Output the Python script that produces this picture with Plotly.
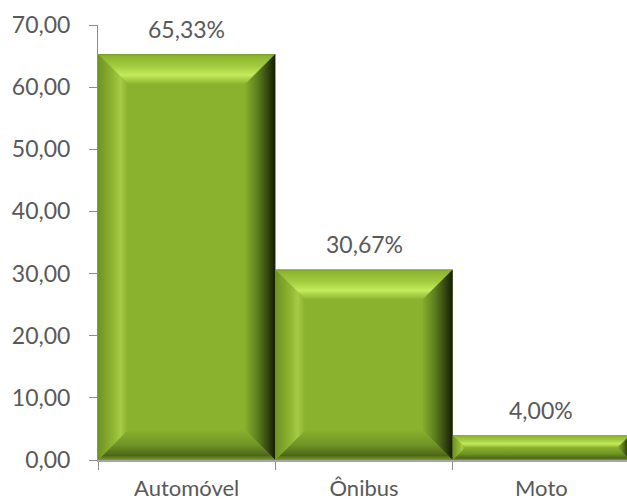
import plotly.graph_objects as go

categories = ["Automóvel", "Ônibus", "Moto"]
values = [65.33, 30.67, 4.00]
y_ticks = [0, 10, 20, 30, 40, 50, 60, 70]

W, H = 627, 503
ML, MR, MT, MB = 98, 0, 25, 43
YMAX = 70
XMIN, XMAX = -0.5, 2.483

px_per_y = (H - MT - MB) / YMAX
px_per_x = (W - ML - MR) / (XMAX - XMIN)

FACE = "#8BB22E"
fig = go.Figure()

fig.add_trace(go.Bar(
    x=list(range(len(categories))), y=values, width=1,
    marker=dict(color=FACE, line=dict(width=0)),
    hoverinfo="skip", showlegend=False,
))

grad = {
    "top": dict(type="vertical", colorscale=[[0, "#8DB42F"], [0.3, "#C3EB5C"], [0.6, "#A3CB40"], [0.92, "#8EB530"], [1, "#7A9C28"]]),
    "bottom": dict(type="vertical", colorscale=[[0, "#7A9C2A"], [0.15, "#4C6618"], [0.5, "#6F9425"], [1, "#8AB12E"]]),
    "left": dict(type="horizontal", colorscale=[[0, "#6E9223"], [0.5, "#8FB631"], [0.75, "#A6CC46"], [1, "#8AB12E"]]),
    "right": dict(type="horizontal", colorscale=[[0, "#86AD2D"], [0.4, "#5E7F1E"], [0.75, "#34470F"], [1, "#141C04"]]),
}

for i, v in enumerate(values):
    h_px = v * px_per_y
    b_px = min(30, h_px / 2)
    bx = b_px / px_per_x
    by = b_px / px_per_y
    x0, x1, y0, y1 = i - 0.5, i + 0.5, 0, v
    polys = {
        "top": ([x0, x1, x1 - bx, x0 + bx, x0], [y1, y1, y1 - by, y1 - by, y1]),
        "bottom": ([x0, x1, x1 - bx, x0 + bx, x0], [y0, y0, y0 + by, y0 + by, y0]),
        "left": ([x0, x0, x0 + bx, x0 + bx, x0], [y0, y1, y1 - by, y0 + by, y0]),
        "right": ([x1, x1, x1 - bx, x1 - bx, x1], [y0, y1, y1 - by, y0 + by, y0]),
    }
    for key in ["top", "bottom", "left", "right"]:
        xs, ys = polys[key]
        fig.add_trace(go.Scatter(
            x=xs, y=ys, mode="lines", line=dict(width=0, color=FACE),
            fill="toself", fillgradient=grad[key],
            hoverinfo="skip", showlegend=False,
        ))

for i, v in enumerate(values):
    fig.add_annotation(
        x=i, y=v, text=f"{v:.2f}%".replace(".", ","), showarrow=False,
        yanchor="bottom", yshift=9,
        font=dict(size=23, color="#595959", family="Lato"),
    )

AX = "#8C8C8C"
fig.update_layout(
    width=W, height=H,
    margin=dict(l=ML, r=MR, t=MT, b=MB, pad=0, autoexpand=False),
    paper_bgcolor="white", plot_bgcolor="white",
    separators=",.",
    font=dict(family="Lato", size=23, color="#595959"),
    showlegend=False,
    xaxis=dict(
        range=[XMIN, XMAX], tickvals=list(range(len(categories))), ticktext=categories,
        ticks="", showgrid=False, zeroline=False, automargin=False,
        showline=True, linecolor="#A6A6A6", linewidth=2,
        ticklabelstandoff=8, tickfont=dict(size=22),
        minor=dict(tickvals=[k - 0.5 for k in range(len(categories) + 1)], ticks="outside",
                   ticklen=8, tickcolor=AX, tickwidth=1, showgrid=False),
    ),
    yaxis=dict(
        range=[0, YMAX], tickvals=y_ticks, tickformat=".2f",
        ticks="outside", ticklen=8, tickcolor=AX, tickwidth=1,
        showgrid=False, zeroline=False, automargin=False,
        showline=True, linecolor=AX, linewidth=1,
        ticklabelstandoff=14,
    ),
)

fig.write_html(
    "out.html",
    config={"displayModeBar": False},
    post_script="document.body.style.margin='0';document.body.style.padding='0';document.body.style.overflow='hidden';",
)
